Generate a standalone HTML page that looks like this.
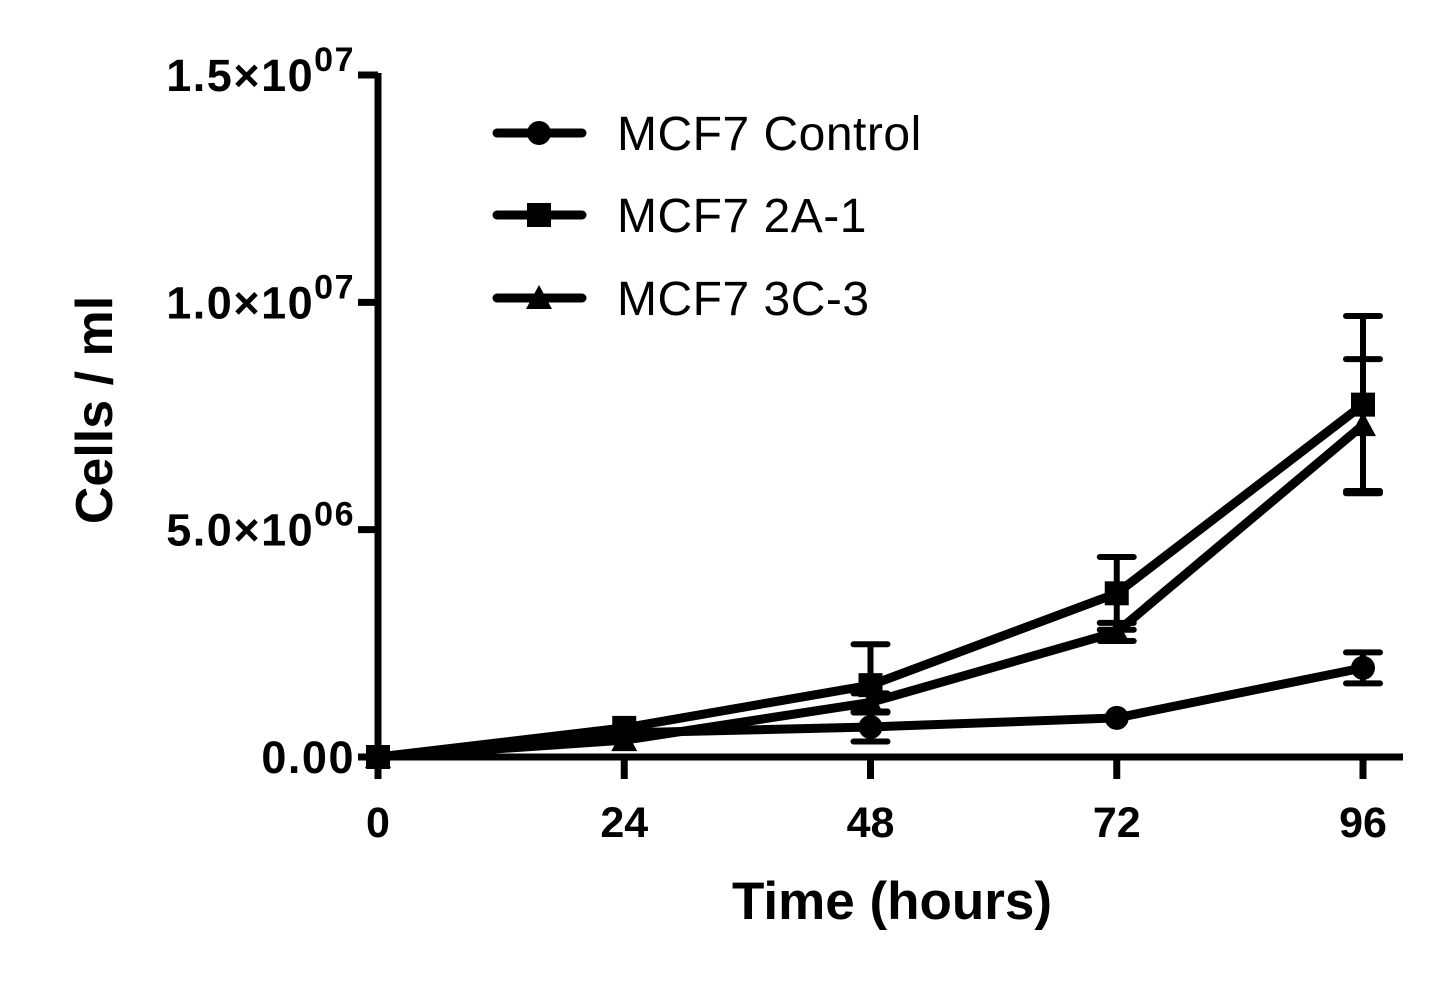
<!DOCTYPE html>
<html><head><meta charset="utf-8"><style>
html,body{margin:0;padding:0;background:#fff;}
svg{display:block;font-family:"Liberation Sans",Arial,sans-serif;}
</style></head><body>
<svg id="chart" width="1450" height="993" viewBox="0 0 1450 993">
<g id="axes"></g><g id="plot"></g><g id="legend"></g>
</svg>
<script>
const hours = [0, 24, 48, 72, 96];
const seriesNames = ["MCF7 Control", "MCF7 2A-1", "MCF7 3C-3"];
const controlVals = [0, 0.53e6, 0.66e6, 0.86e6, 1.96e6];
const controlErr = [0, 0, 0.32e6, 0, 0.34e6];
const a21Vals = [0, 0.64e6, 1.58e6, 3.6e6, 7.75e6];
const a21Err = [0, 0, 0.9e6, 0.8e6, 1.95e6];
const c33Vals = [0, 0.37e6, 1.2e6, 2.75e6, 7.3e6];
const c33Err = [0, 0, 0.2e6, 0.2e6, 1.45e6];
const yTicks = [0, 5e6, 1e7, 1.5e7];
const yTickMain = ["0.00", "5.0×10", "1.0×10", "1.5×10"];
const yTickExp = ["", "06", "07", "07"];

const NS = "http://www.w3.org/2000/svg";
const X0 = 378, X1 = 1363, Y0 = 757, Y1 = 75;
const xs = h => X0 + (h - 0) / 96 * (X1 - X0);
const ys = v => Y0 - v / 1.5e7 * (Y0 - Y1);
function mk(tag, attrs, parent) {
  const e = document.createElementNS(NS, tag);
  for (const k in attrs) e.setAttribute(k, attrs[k]);
  parent.appendChild(e);
  return e;
}
const axes = document.getElementById("axes");
const plot = document.getElementById("plot");
const legend = document.getElementById("legend");

let yl = mk("line", {x1: X0, y1: Y1 - 2, x2: X0, y2: Y0 + 4, stroke: "#000", "stroke-width": 7}, axes);


let xl = mk("line", {x1: X0 - 4, y1: Y0, x2: 1403, y2: Y0, stroke: "#000", "stroke-width": 7}, axes);



yTicks.forEach((v, i) => {
  const y = ys(v);
  const t = mk("line", {x1: X0 - 20, y1: y, x2: X0, y2: y, stroke: "#000", "stroke-width": 7}, axes);
  
  
  const tx = mk("text", {x: 355, y: y + 16, "text-anchor": "end", "font-size": 45, "font-weight": "bold", "letter-spacing": 1.5}, axes);
  
  
  tx.appendChild(document.createTextNode(yTickMain[i]));
  if (yTickExp[i]) {
    const s = mk("tspan", {dy: -20, "font-size": 34}, tx);
    s.textContent = yTickExp[i];
  }
});
hours.forEach(h => {
  const x = xs(h);
  const t = mk("line", {x1: x, y1: Y0, x2: x, y2: Y0 + 22, stroke: "#000", "stroke-width": 7}, axes);
  
  
  const tx = mk("text", {x: x, y: 837, "text-anchor": "middle", "font-size": 43, "font-weight": "bold"}, axes);
  
  
  tx.textContent = h;
});
const xt = mk("text", {x: 892, y: 919, "text-anchor": "middle", "font-size": 53, "font-weight": "bold"}, axes);


xt.textContent = "Time (hours)";
const ytl = mk("text", {x: 0, y: 0, "text-anchor": "middle", "font-size": 52, "font-weight": "bold", transform: "translate(112,410) rotate(-90)"}, axes);


ytl.textContent = "Cells / ml";

function marker(shape, x, y, parent) {
  let m;
  if (shape === "circle") m = mk("ellipse", {cx: x, cy: y, rx: 12, ry: 12, fill: "#000"}, parent);
  else if (shape === "square") m = mk("rect", {x: x - 12, y: y - 12, width: 24, height: 24, fill: "#000"}, parent);
  else m = mk("polygon", {points: `${x},${y - 13} ${x + 13},${y + 11} ${x - 13},${y + 11}`, fill: "#000"}, parent);
  return m;
}
const allSeries = [
  {vals: controlVals, err: controlErr, shape: "circle", key: "control"},
  {vals: a21Vals, err: a21Err, shape: "square", key: "2a-1"},
  {vals: c33Vals, err: c33Err, shape: "triangle", key: "3c-3"}
];
allSeries.forEach(s => {
  const g = mk("g", {}, plot);
  
  
  s.vals.forEach((v, i) => {
    if (!s.err[i]) return;
    const x = xs(hours[i]);
    const e = mk("path", {d: `M${x},${ys(v + s.err[i])}V${ys(v - s.err[i])}M${x - 17},${ys(v + s.err[i])}h34M${x - 17},${ys(v - s.err[i])}h34`, stroke: "#000", "stroke-width": 6, "stroke-linecap": "round", fill: "none"}, g);
    
    
  });
  const pts = s.vals.map((v, i) => xs(hours[i]) + "," + ys(v)).join(" ");
  const pl = mk("polyline", {points: pts, fill: "none", stroke: "#000", "stroke-width": 9, "stroke-linejoin": "round"}, g);
  
  
  s.vals.forEach((v, i) => {
    const m = marker(s.shape, xs(hours[i]), ys(v), g);
    
    
  });
});
const legY = [133, 215, 298];
allSeries.forEach((s, i) => {
  const g = mk("g", {}, legend);
  
  
  mk("line", {x1: 497, y1: legY[i], x2: 582, y2: legY[i], stroke: "#000", "stroke-width": 9, "stroke-linecap": "round"}, g);
  marker(s.shape, 539, legY[i], g);
  const t = mk("text", {x: 617, y: legY[i] + 17, "font-size": 48, "letter-spacing": 0.5}, g);
  t.textContent = seriesNames[i];
});
</script>
</body></html>
